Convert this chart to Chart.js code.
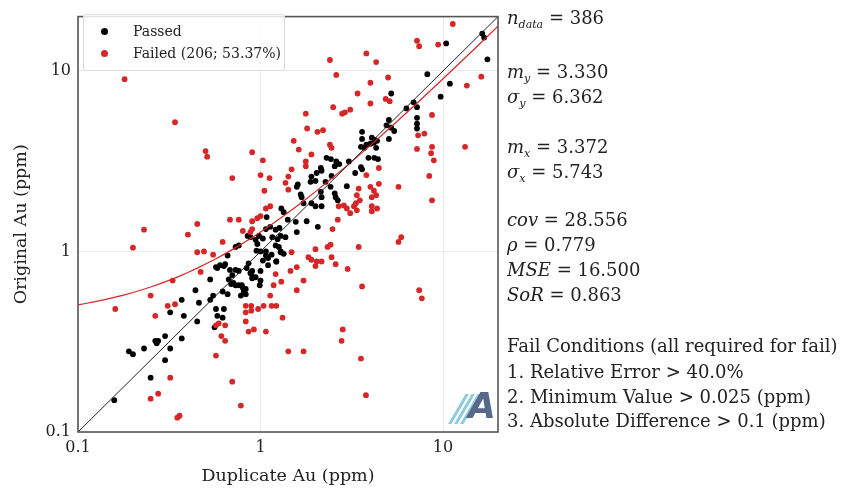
<!DOCTYPE html>
<html>
<head>
<meta charset="utf-8">
<script src="https://cdn.jsdelivr.net/npm/chart.js@4.4.1/dist/chart.umd.min.js"></script>
<style>
  html, body { margin:0; padding:0; background:#fff; }
  #wrap { position:relative; width:841px; height:491px; overflow:hidden; font-family:"DejaVu Serif", serif; color:#222; }
  canvas { position:absolute; left:0; top:0; }
  .stat { position:absolute; left:507px; font-size:18px; line-height:20px; white-space:nowrap; transform:translateY(-50%); }
  .stat sub { font-size:11px; vertical-align:-4px; line-height:0; }
  #legend { position:absolute; left:83px; top:14px; width:200px; height:55px; border:1px solid #dcdcdc; border-radius:3px; background:rgba(255,255,255,0.85); font-size:14px; }
  #legend .item { position:absolute; left:0; height:20px; line-height:20px; white-space:nowrap; }
  #legend .dot { position:absolute; left:17px; top:7px; width:7px; height:7px; border-radius:50%; }
  #legend .txt { position:absolute; left:49px; top:0; }
</style>
</head>
<body>
<div id="wrap">
  <canvas id="c" width="841" height="491"></canvas>
  <div id="legend">
    <div class="item" style="top:6px"><span class="dot" style="background:#000"></span><span class="txt" id="lgP"></span></div>
    <div class="item" style="top:28px"><span class="dot" style="background:#d62728"></span><span class="txt" id="lgF"></span></div>
  </div>
  <div class="stat" style="top:18px"><i>n</i><sub><i>data</i></sub> = 386</div>
  <div class="stat" style="top:72px"><i>m</i><sub><i>y</i></sub> = 3.330</div>
  <div class="stat" style="top:97px"><i>σ</i><sub><i>y</i></sub> = 6.362</div>
  <div class="stat" style="top:147px"><i>m</i><sub><i>x</i></sub> = 3.372</div>
  <div class="stat" style="top:172px"><i>σ</i><sub><i>x</i></sub> = 5.743</div>
  <div class="stat" style="top:220px"><i>cov</i> = 28.556</div>
  <div class="stat" style="top:245px"><i>ρ</i> = 0.779</div>
  <div class="stat" style="top:270px"><i>MSE</i> = 16.500</div>
  <div class="stat" style="top:295px"><i>SoR</i> = 0.863</div>
  <div class="stat" style="top:346px">Fail Conditions (all required for fail)</div>
  <div class="stat" style="top:372px">1. Relative Error &gt; 40.0%</div>
  <div class="stat" style="top:397px">2. Minimum Value &gt; 0.025 (ppm)</div>
  <div class="stat" style="top:421px">3. Absolute Difference &gt; 0.1 (ppm)</div>
</div>
<script>
// ---- data (Duplicate Au, Original Au) in ppm ----
const seriesLabels = ['Passed', 'Failed (206; 53.37%)'];
const xTicks = [0.1, 1, 10];
const yTicks = [0.1, 1, 10];
const axisRange = [0.1, 20];
const regSlope = 0.863;
const regIntercept = 0.42;
const lineXs = [0.1, 0.11, 0.12, 0.13, 0.14, 0.16, 0.18, 0.2, 0.22, 0.25, 0.28, 0.32, 0.36, 0.4, 0.45, 0.5, 0.56, 0.63, 0.7, 0.8, 0.9, 1, 1.15, 1.3, 1.5, 1.75, 2, 2.5, 3, 4, 5, 7, 10, 15, 20];

const passedPoints = [
 [10.4,14.2],[16.4,16.1],[16.8,15.3],[17.5,11.6],[8.2,9.6],[10.9,8.5],[5.2,7.5],[9.7,7.2],[6.9,6.7],[7.2,6.3],[6.3,6.2],
 [7.2,5.5],[7.2,5.1],[7.2,4.8],[5.05,5.35],[4.9,5.0],[5.2,4.85],[5.4,4.65],[3.6,4.6],[3.6,4.2],[3.55,3.8],
 [4.07,4.27],[4.23,4.15],[4.35,4.1],[4.18,4.0],[4.0,3.95],[5.05,4.2],[3.8,3.9],[3.7,3.75],[4.3,3.75],
 [2.3,3.3],[2.43,3.25],[2.6,3.15],[2.7,3.05],[2.55,2.97],[3.05,3.15],[3.9,3.3],[4.2,3.3],[4.4,3.25],
 [2.14,2.9],[2.03,2.72],[2.16,2.8],[3.55,2.93],[3.6,2.85],[3.3,2.72],[1.9,2.6],[1.88,2.43],[2.0,2.46],
 [1.58,2.28],[2.27,2.43],[2.42,2.28],[2.45,2.62],[2.97,2.3],[1.68,2.0],[1.72,1.85],[2.14,2.14],[2.16,2.0],
 [2.55,2.1],[2.58,2.0],[2.65,1.92],[1.9,1.85],[2.0,1.78],[2.16,1.78],[1.56,1.46],[1.79,1.47],
 [1.3,1.73],[1.08,1.55],[1.34,1.65],[1.66,2.07],[1.6,2.35],
 [1.07,1.33],[1.13,1.37],[1.21,1.32],[1.27,1.35],[1.41,1.5],[1.58,1.28],[2.06,1.37],
 [0.76,1.08],[0.73,1.06],[0.85,1.22],[0.88,1.2],[0.98,1.22],[1.03,1.18],[0.96,1.1],[0.95,1.01],[1.0,1.0],
 [1.16,1.2],[1.24,1.17],[1.29,1.22],[1.37,1.2],[1.21,1.08],[1.26,1.06],[1.29,1.0],[1.34,0.97],
 [1.07,0.95],[1.1,0.92],[1.03,0.89],[1.1,0.84],[0.86,0.86],[0.84,0.81],[0.9,0.78],[0.66,0.95],
 [0.6,0.84],[0.58,0.81],[0.63,0.83],[0.68,0.79],[0.73,0.79],[0.76,0.78],
 [0.7,0.74],[0.67,0.7],[0.71,0.67],[0.76,0.65],[0.8,0.63],[0.88,0.76],[0.9,0.71],[1.0,0.78],[1.0,0.69],[0.99,0.65],
 [0.62,0.6],[0.66,0.58],[0.81,0.6],[0.83,0.58],[0.53,0.7],[0.55,0.57],[0.53,0.54],[0.44,0.61],[0.46,0.52],
 [0.57,0.48],[0.63,0.48],[0.58,0.44],[0.62,0.43],[0.37,0.54],[0.38,0.44],[0.45,0.41],[0.32,0.46],[0.56,0.38],
 [0.19,0.28],[0.2,0.27],[0.23,0.29],[0.265,0.32],[0.275,0.32],[0.3,0.34],[0.27,0.31],[0.32,0.29],[0.37,0.33],[0.3,0.25],[0.25,0.2],[0.158,0.15],
 [0.94,1.16],[1.15,0.96],[1.22,0.88],[1.29,0.99],[0.89,0.75],[0.94,0.72],[0.79,0.65],[0.78,0.57],[0.57,0.82],[0.64,0.85],
 [0.69,0.66],[0.73,0.65],[0.83,0.62],[1.1,0.93],[1.07,1.0],[1.22,0.88]
];

const failedPoints = [
 [0.18,9.0],[0.34,5.2],[0.5,3.6],[0.51,3.35],[0.9,3.55],[1.03,3.2],[0.7,2.55],[1.0,2.65],[1.12,2.55],[1.05,2.17],[1.37,2.4],
 [1.07,1.73],[1.13,1.78],[0.68,1.5],[0.76,1.5],[0.9,1.47],[0.45,1.42],
 [11.3,18.2],[7.2,14.7],[7.4,13.7],[9.4,14.0],[3.8,12.5],[4.3,11.2],[2.4,11.5],[2.6,9.5],[16.2,9.3],[13.5,8.3],[5.0,9.2],[4.0,8.6],[3.4,7.5],
 [4.85,7.0],[5.1,6.8],[4.0,6.6],[2.5,6.3],[2.8,5.8],[2.9,5.9],[3.1,6.1],[1.77,5.8],[8.7,5.7],[1.8,4.8],[2.05,4.6],[2.2,4.7],[7.3,4.4],[7.9,4.5],
 [1.52,4.1],[2.4,3.9],[2.45,3.75],[1.62,3.67],[7.2,3.7],[8.7,3.8],[8.6,3.5],[8.9,3.2],[13.2,3.8],[1.9,3.45],[1.77,3.15],[1.77,2.97],[1.48,2.85],
 [4.45,2.9],[3.8,2.65],[1.42,2.6],[3.45,2.23],[4.45,2.37],[5.7,2.28],[8.4,2.62],[8.7,1.92],[4.0,2.28],[4.18,2.17],[4.3,2.05],[4.07,2.0],
 [3.37,2.05],[3.5,1.92],[3.33,1.85],[2.68,1.78],[2.86,1.8],[2.97,1.73],[3.25,1.78],[3.37,1.69],[4.07,1.78],[4.07,1.67],[4.35,1.73],[3.1,1.63],[2.65,1.5],
 [1.42,2.2],[1.0,1.57],[0.96,1.53],[0.4,1.24],[0.62,1.13],[0.8,1.3],[0.9,1.33],[0.88,1.28],[2.48,1.33],
 [0.23,1.32],[0.2,1.05],[0.45,0.99],[0.49,1.0],[0.55,0.96],[0.47,0.77],[0.33,0.69],[0.25,0.57],[0.16,0.48],[0.265,0.44],[0.31,0.5],[0.34,0.51],
 [0.32,0.2],[0.275,0.163],[0.25,0.153],[0.35,0.12],[0.36,0.123],[0.7,0.19],[0.78,0.14],[0.57,0.265],[0.57,0.39],[0.59,0.4],[0.64,0.39],[0.61,0.34],[0.64,0.32],
 [0.83,0.5],[0.89,0.5],[0.97,0.48],[1.04,0.5],[0.83,0.46],[0.89,0.47],[0.83,0.41],[0.92,0.37],[0.86,0.36],[1.07,0.36],[1.15,0.5],[1.22,0.5],[1.32,0.43],
 [1.13,0.57],[1.18,0.65],[1.3,0.68],[1.21,0.75],[1.42,0.28],
 [2.33,1.06],[2.42,1.09],[3.45,1.06],[5.9,1.2],[5.7,1.13],[2.0,1.03],[1.83,0.93],[1.9,0.9],[2.03,0.88],[2.16,0.88],[2.45,0.93],[2.58,0.85],[2.0,0.83],
 [1.48,0.99],[1.58,0.82],[1.46,0.78],[3.0,0.8],[1.72,0.69],[1.58,0.61],[3.6,0.64],[7.4,0.61],[7.65,0.55],[2.82,0.37],[2.78,0.32],[1.72,0.28],[3.55,0.255],[3.78,0.16]
];

document.getElementById('lgP').textContent = seriesLabels[0];
document.getElementById('lgF').textContent = seriesLabels[1];

const toXY = arr => arr.map(p => ({x: p[0], y: p[1]}));
const oneToOne = [{x: axisRange[0], y: axisRange[0]}, {x: axisRange[1], y: axisRange[1]}];
const regLine = lineXs.map(x => ({x: x, y: regSlope * x + regIntercept}));

const FONT = '"DejaVu Serif", serif';
const RED = '#d62728';

const framePlugin = {
  id: 'frame',
  afterDraw(chart) {
    const {ctx, chartArea: a} = chart;
    ctx.save();
    ctx.strokeStyle = '#555';
    ctx.lineWidth = 1.6;
    ctx.strokeRect(a.left, a.top, a.right - a.left, a.bottom - a.top);
    // logo
    const bx = a.right - 50, by = a.bottom - 8;
    ctx.fillStyle = '#8fcbdc';
    for (let i = 0; i < 3; i++) {
      const ox = bx + i * 6;
      ctx.beginPath();
      ctx.moveTo(ox, by);
      ctx.lineTo(ox + 3.5, by);
      ctx.lineTo(ox + 21, by - 30);
      ctx.lineTo(ox + 17.5, by - 30);
      ctx.closePath();
      ctx.fill();
    }
    ctx.fillStyle = '#56698a';
    ctx.font = 'italic bold 36px "DejaVu Sans", sans-serif';
    ctx.textBaseline = 'alphabetic';
    ctx.fillText('A', bx + 20, by - 6);
    ctx.restore();
  }
};

function tickSetter(vals) {
  return scale => { scale.ticks = vals.map(v => ({value: v})); };
}
const fmt = v => (v < 1 ? String(v) : String(Math.round(v)));

new Chart(document.getElementById('c'), {
  type: 'scatter',
  data: {
    datasets: [
      {label: '1:1', type: 'line', data: oneToOne, borderColor: '#222', borderWidth: 1, pointRadius: 0, order: 0},
      {label: 'Regression', type: 'line', data: regLine, borderColor: RED, borderWidth: 1.2, pointRadius: 0, tension: 0, order: 1},
      {label: seriesLabels[0], data: toXY(passedPoints), backgroundColor: '#000', borderWidth: 0, pointRadius: 2.9, order: 3},
      {label: seriesLabels[1], data: toXY(failedPoints), backgroundColor: RED, borderWidth: 0, pointRadius: 2.9, order: 2}
    ]
  },
  options: {
    responsive: false,
    animation: false,
    layout: {padding: {left: 0, right: 343, top: 9, bottom: 0}},
    plugins: {legend: {display: false}, tooltip: {enabled: false}},
    scales: {
      x: {
        type: 'logarithmic', min: axisRange[0], max: axisRange[1],
        afterBuildTicks: tickSetter(xTicks),
        afterFit: s => { s.height = 59; },
        grid: {color: '#ebebeb', drawTicks: false, lineWidth: 1},
        border: {display: false},
        ticks: {font: {family: FONT, size: 16}, color: '#222', padding: 6, maxRotation: 0, autoSkip: false, callback: v => fmt(v)},
        title: {display: true, text: 'Duplicate Au (ppm)', font: {family: FONT, size: 17.5}, color: '#222', padding: {top: 0, bottom: 4}}
      },
      y: {
        type: 'logarithmic', min: axisRange[0], max: axisRange[1],
        afterBuildTicks: tickSetter(yTicks),
        afterFit: s => { s.width = 78; },
        grid: {color: '#ebebeb', drawTicks: false, lineWidth: 1},
        border: {display: false},
        ticks: {font: {family: FONT, size: 16}, color: '#222', padding: 7, autoSkip: false, callback: v => fmt(v)},
        title: {display: true, text: 'Original Au (ppm)', font: {family: FONT, size: 17.5}, color: '#222', padding: {top: 11, bottom: 0}}
      }
    }
  },
  plugins: [framePlugin]
});
</script>
</body>
</html>
